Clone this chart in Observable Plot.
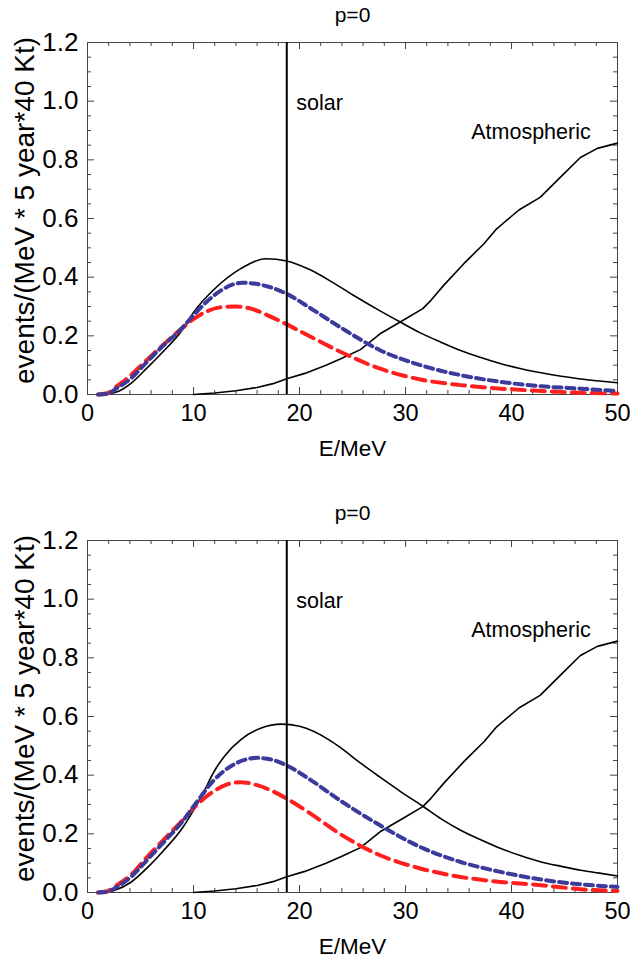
<!DOCTYPE html>
<html><head><meta charset="utf-8">
<script src="https://cdn.jsdelivr.net/npm/d3@7"></script>
<script src="https://cdn.jsdelivr.net/npm/@observablehq/plot@0.6"></script>
<style>body{margin:0;background:#fff;} #chart svg{display:block;}</style>
</head><body><div id="chart"></div>
<script>
// ---------- data ----------
const panelTitles = ["p=0", "p=0"];
const xLabel = "E/MeV";
const yLabel = "events/(MeV * 5 year*40 Kt)";
const xTickValues = [0, 10, 20, 30, 40, 50];
const yTickValues = [0, 0.2, 0.4, 0.6, 0.8, 1.0, 1.2];
const solarLine = 18.8;
const annotationText = ["solar", "Atmospheric"];
const annotationX = [19.7, 36.2];
const annotationY = [0.995, 0.895];

// atmospheric background (same in both panels)
const atmE = [10, 12, 14, 16, 17.5, 18.8, 20.5, 22.5, 23.9, 25.75, 27.6, 29.5, 31.6, 32.4, 33.6, 35.5, 37.4, 38.6, 40.7, 42.7, 44.6, 46.5, 48.1, 50];
const atmV = [0, 0.005, 0.013, 0.024, 0.037, 0.054, 0.072, 0.1, 0.122, 0.153, 0.207, 0.247, 0.292, 0.321, 0.372, 0.446, 0.514, 0.565, 0.629, 0.672, 0.74, 0.808, 0.839, 0.857];

// top panel
const topBlackE = [1, 2, 2.5, 3, 4.1, 5.6, 7.1, 8.8, 10, 11.9, 14.5, 16.8, 18.8, 21, 23, 25, 27.6, 29.5, 31.4, 33.3, 35.2, 37.1, 39, 40.9, 42.8, 44.7, 46.5, 48.3, 50];
const topBlackV = [0, 0.002, 0.006, 0.012, 0.038, 0.09, 0.145, 0.213, 0.28, 0.357, 0.43, 0.463, 0.455, 0.425, 0.385, 0.34, 0.285, 0.247, 0.21, 0.179, 0.15, 0.126, 0.105, 0.088, 0.074, 0.062, 0.053, 0.046, 0.04];
const topBlueE = [1, 2, 2.5, 4.1, 5.6, 7.1, 8.8, 10, 11.3, 12.6, 14.6, 16.5, 18.8, 21, 23.9, 27.6, 31.4, 35.2, 39, 42.8, 46.5, 50];
const topBlueV = [0, 0.003, 0.015, 0.055, 0.111, 0.165, 0.222, 0.27, 0.318, 0.355, 0.381, 0.373, 0.343, 0.295, 0.228, 0.151, 0.1, 0.066, 0.043, 0.028, 0.02, 0.012];
const topRedE = [1, 2, 2.5, 4.1, 5.6, 7.1, 8.8, 10, 11.3, 12.5, 14, 15.5, 17, 18.8, 21, 23.9, 27.6, 31.4, 35.2, 39, 42.8, 46.5, 50];
const topRedV = [0, 0.005, 0.02, 0.066, 0.118, 0.168, 0.222, 0.257, 0.284, 0.297, 0.3, 0.292, 0.27, 0.239, 0.198, 0.145, 0.088, 0.051, 0.032, 0.02, 0.012, 0.006, 0.003];

// bottom panel
const botBlackE = [1, 2, 2.5, 4.1, 5.6, 7.1, 8.8, 10, 11, 11.9, 13, 14.5, 16.4, 18.3, 20, 22.9, 23.9, 25.8, 27.6, 29.5, 31.6, 33.4, 35.2, 37.1, 39, 40.9, 42.8, 44.7, 46.5, 48.3, 50];
const botBlackV = [0, 0.002, 0.007, 0.035, 0.083, 0.14, 0.212, 0.28, 0.345, 0.41, 0.468, 0.522, 0.561, 0.574, 0.567, 0.518, 0.493, 0.44, 0.393, 0.345, 0.295, 0.25, 0.212, 0.18, 0.15, 0.125, 0.104, 0.089, 0.076, 0.066, 0.056];
const botBlueE = [1, 2, 2.5, 4.1, 5.6, 7.2, 8.8, 10.3, 11.9, 13.5, 16, 17.5, 18.8, 21, 23.9, 27.6, 31.4, 35.2, 39, 42.8, 46.5, 50];
const botBlueV = [0, 0.003, 0.013, 0.053, 0.11, 0.172, 0.235, 0.308, 0.382, 0.43, 0.459, 0.452, 0.433, 0.385, 0.312, 0.229, 0.155, 0.104, 0.07, 0.044, 0.028, 0.019];
const botRedE = [1, 2, 2.5, 4.1, 5.6, 7.2, 8.8, 10.3, 11.9, 13, 14.4, 16, 17.5, 18.8, 21, 23.9, 27.6, 31.4, 35.2, 39, 42.8, 46.5, 50];
const botRedV = [0, 0.005, 0.018, 0.06, 0.12, 0.18, 0.24, 0.298, 0.345, 0.366, 0.376, 0.366, 0.345, 0.32, 0.27, 0.198, 0.127, 0.082, 0.053, 0.036, 0.025, 0.011, 0.005];

// ---------- helpers ----------
const zip = (E, V) => E.map((e, i) => ({E: e, v: V[i]}));
const range = (a, b, s) => d3.range(a, b + s / 2, s).map(d => +d.toFixed(4));
const xMinor = range(0, 50, 2).filter(d => d % 10 !== 0);
const yMinor = range(0, 1.2, 0.05).filter(d => Math.abs(d * 5 - Math.round(d * 5)) > 1e-6);

const FONT = "'Liberation Sans', Arial, Helvetica, sans-serif";
const W = 630, ML = 87, MR = 13;
const frameColor = "#444";

function panel({title, height, marginTop, marginBottom, black, blue, red}) {
  const ph = height - marginTop - marginBottom;
  const pw = W - ML - MR;
  const tickMarks = (len, vals) => [
    Plot.tickX(vals, {x: d => d, insetTop: ph - len, stroke: frameColor, strokeWidth: 1}),
    Plot.tickX(vals, {x: d => d, insetBottom: ph - len, stroke: frameColor, strokeWidth: 1})
  ];
  const tickMarksY = (len, vals) => [
    Plot.tickY(vals, {y: d => d, insetRight: pw - len, stroke: frameColor, strokeWidth: 1}),
    Plot.tickY(vals, {y: d => d, insetLeft: pw - len, stroke: frameColor, strokeWidth: 1})
  ];
  return Plot.plot({
    width: W, height, marginLeft: ML, marginRight: MR, marginTop, marginBottom,
    x: {domain: [0, 50], axis: null},
    y: {domain: [0, 1.2], axis: null},
    style: {fontFamily: FONT, fontSize: "21px", background: "white", color: "black"},
    marks: [
      ...tickMarks(7, xTickValues), ...tickMarks(4, xMinor),
      ...tickMarksY(7, yTickValues), ...tickMarksY(4, yMinor),
      Plot.frame({stroke: frameColor, strokeWidth: 1}),
      Plot.line(zip(atmE, atmV), {x: "E", y: "v", stroke: "black", strokeWidth: 1.6}),
      Plot.line(black, {x: "E", y: "v", stroke: "black", strokeWidth: 1.6, curve: "monotone-x"}),
      Plot.line(red, {x: "E", y: "v", stroke: "#ff1f1f", strokeWidth: 4, strokeDasharray: "13,7", curve: "monotone-x"}),
      Plot.line(blue, {x: "E", y: "v", stroke: "#3b3b9c", strokeWidth: 4, strokeDasharray: "8,5", curve: "monotone-x"}),
      Plot.ruleX([solarLine], {stroke: "black", strokeWidth: 2}),
      Plot.text(annotationText, {x: (d, i) => annotationX[i], y: (d, i) => annotationY[i], text: d => d, textAnchor: "start", lineAnchor: "middle", fontSize: 21.5, fill: "black"}),
      Plot.text(xTickValues, {x: d => d, frameAnchor: "bottom", dy: 19, lineAnchor: "middle", textAnchor: "middle", text: d => String(d), fontSize: 23.5, fill: "black"}),
      Plot.text(yTickValues, {y: d => d, frameAnchor: "left", dx: -9, textAnchor: "end", lineAnchor: "middle", text: d => d.toFixed(1), fontSize: 26, fill: "black"}),
      Plot.text([xLabel], {frameAnchor: "bottom", dy: 54, lineAnchor: "middle", textAnchor: "middle", text: d => d, fontSize: 22.5, fill: "black"}),
      Plot.text([yLabel], {frameAnchor: "left", dx: -62, dy: -8, rotate: -90, textAnchor: "middle", lineAnchor: "middle", text: d => d, fontSize: 28, fill: "black"}),
      Plot.text([title], {frameAnchor: "top", dy: -27, lineAnchor: "middle", textAnchor: "middle", text: d => d, fontSize: 21, fill: "black"})
    ]
  });
}

const chart = document.getElementById("chart");
chart.append(panel({title: panelTitles[0], height: 498, marginTop: 42, marginBottom: 104,
  black: zip(topBlackE, topBlackV), blue: zip(topBlueE, topBlueV), red: zip(topRedE, topRedV)}));
chart.append(panel({title: panelTitles[1], height: 466, marginTop: 42, marginBottom: 72,
  black: zip(botBlackE, botBlackV), blue: zip(botBlueE, botBlueV), red: zip(botRedE, botRedV)}));
</script></body></html>
